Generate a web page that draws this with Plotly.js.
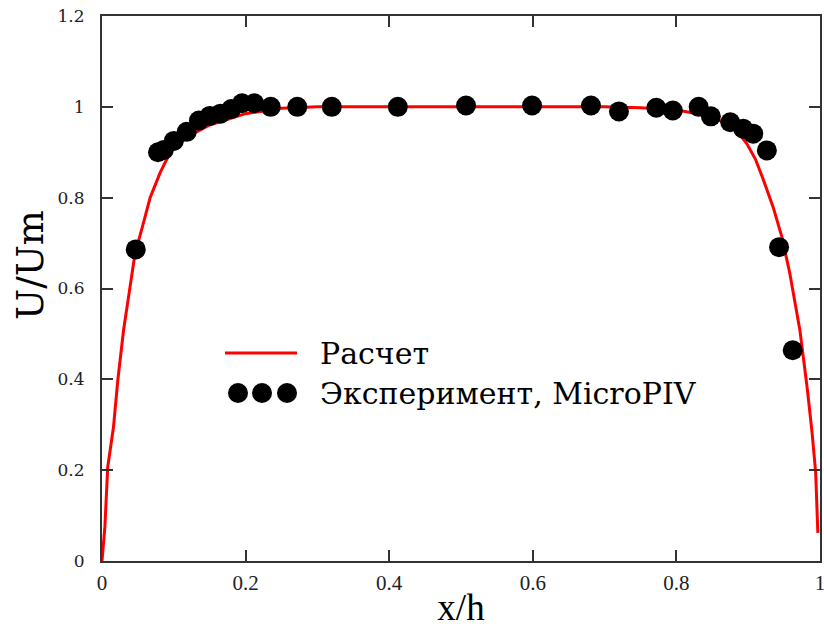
<!DOCTYPE html>
<html>
<head>
<meta charset="utf-8">
<script src="https://cdn.plot.ly/plotly-3.0.1.min.js"></script>
<style>html,body{margin:0;padding:0;background:#fff;}#chart{width:824px;height:628px;}</style>
</head>
<body>
<div id="chart"></div>
<script>
// Calculated profile (Расчет)
const calcX = [0, 0.002, 0.004, 0.008, 0.016, 0.022, 0.030, 0.039, 0.046, 0.057, 0.067, 0.081, 0.095, 0.120, 0.150, 0.200, 0.250, 0.300, 0.500, 0.700, 0.750, 0.800, 0.830, 0.860, 0.880, 0.898, 0.910, 0.921, 0.935, 0.947, 0.958, 0.972, 0.982, 0.989, 0.994, 0.997];
const calcY = [0, 0.030, 0.075, 0.207, 0.295, 0.398, 0.508, 0.603, 0.677, 0.740, 0.800, 0.855, 0.900, 0.935, 0.960, 0.985, 0.997, 1.000, 1.000, 1.000, 0.998, 0.993, 0.985, 0.970, 0.955, 0.919, 0.885, 0.840, 0.778, 0.713, 0.633, 0.508, 0.383, 0.282, 0.194, 0.062];

// Experiment, MicroPIV
const expX = [0.047, 0.078, 0.086, 0.100, 0.118, 0.135, 0.150, 0.165, 0.180, 0.195, 0.212, 0.235, 0.272, 0.320, 0.412, 0.507, 0.599, 0.681, 0.720, 0.772, 0.795, 0.831, 0.848, 0.875, 0.893, 0.907, 0.926, 0.943, 0.962];
const expY = [0.686, 0.900, 0.905, 0.925, 0.945, 0.970, 0.980, 0.985, 0.995, 1.008, 1.008, 1.000, 1.000, 1.000, 1.000, 1.003, 1.003, 1.003, 0.990, 0.998, 0.992, 1.000, 0.979, 0.966, 0.952, 0.941, 0.904, 0.691, 0.464];

const xTicks = [0, 0.2, 0.4, 0.6, 0.8, 1];
const xTickText = ['0', '0.2', '0.4', '0.6', '0.8', '1'];
const yTicks = [0, 0.2, 0.4, 0.6, 0.8, 1, 1.2];
const yTickText = ['0', '0.2', '0.4', '0.6', '0.8', '1', '1.2'];

const legendLabels = ['Расчет', 'Эксперимент, MicroPIV'];
const xTitle = 'x/h';
const yTitle = 'U/Um';
const calcColor = '#ff0000';
const expColor = '#000000';

const traces = [
  {x: calcX, y: calcY, type: 'scatter', mode: 'lines', name: legendLabels[0],
   line: {color: calcColor, width: 3}, showlegend: false},
  {x: expX, y: expY, type: 'scatter', mode: 'markers', name: legendLabels[1],
   marker: {color: expColor, size: 20, symbol: 'circle'}, showlegend: false}
];

// custom legend (paper coords)
const legX0 = (225 - 102) / 718, legX1 = (297 - 102) / 718;
const legY1 = (561 - 353) / 545, legY2 = (561 - 393) / 545;
const shapes = [
  {type: 'line', xref: 'paper', yref: 'paper', x0: legX0, x1: legX1, y0: legY1, y1: legY1,
   line: {color: calcColor, width: 3}}
];
[238, 262, 287].forEach(px => {
  const cx = (px - 102) / 718;
  shapes.push({type: 'circle', xref: 'paper', yref: 'paper', xsizemode: 'pixel', ysizemode: 'pixel',
    xanchor: cx, yanchor: legY2, x0: -10, x1: 10, y0: -10, y1: 10,
    fillcolor: expColor, line: {color: expColor, width: 0}});
});
const legFont = {family: 'DejaVu Serif', size: 30, color: '#000'};
const annotations = [
  {xref: 'paper', yref: 'paper', x: (318 - 102) / 718, y: legY1, xanchor: 'left', yanchor: 'middle',
   text: legendLabels[0], showarrow: false, font: legFont},
  {xref: 'paper', yref: 'paper', x: (318 - 102) / 718, y: legY2, xanchor: 'left', yanchor: 'middle',
   text: legendLabels[1], showarrow: false, font: legFont},
  {xref: 'paper', yref: 'paper', x: 0, y: (561 - 265) / 545, xshift: -72, xanchor: 'center', yanchor: 'middle',
   textangle: -90, text: yTitle, showarrow: false, font: {family: 'DejaVu Serif', size: 37, color: '#000'}}
];

const layout = {
  width: 824, height: 628,
  margin: {l: 102, r: 4, t: 16, b: 67, pad: 0},
  paper_bgcolor: '#fff', plot_bgcolor: '#fff',
  showlegend: false,
  xaxis: {
    range: [0, 1], tickvals: xTicks, ticktext: xTickText,
    showline: true, linecolor: '#333', linewidth: 2, mirror: 'ticks',
    ticks: 'inside', ticklen: 11, tickwidth: 2, tickcolor: '#333',
    showgrid: false, zeroline: false,
    tickfont: {family: 'Liberation Serif', size: 21, color: '#222'},
    ticklabelstandoff: 2, ticklabeloverflow: 'allow',
    title: {text: xTitle, font: {family: 'Liberation Serif', size: 37, color: '#000'}, standoff: 0}
  },
  yaxis: {
    range: [0, 1.2], tickvals: yTicks, ticktext: yTickText,
    showline: true, linecolor: '#333', linewidth: 2, mirror: 'ticks',
    ticks: 'inside', ticklen: 11, tickwidth: 2, tickcolor: '#333',
    showgrid: false, zeroline: false,
    tickfont: {family: 'DejaVu Serif', size: 17, color: '#222'},
    ticklabelstandoff: 12, ticklabeloverflow: 'allow'
  },
  shapes: shapes,
  annotations: annotations
};

Plotly.newPlot('chart', traces, layout, {staticPlot: true, displayModeBar: false});
</script>
</body>
</html>
